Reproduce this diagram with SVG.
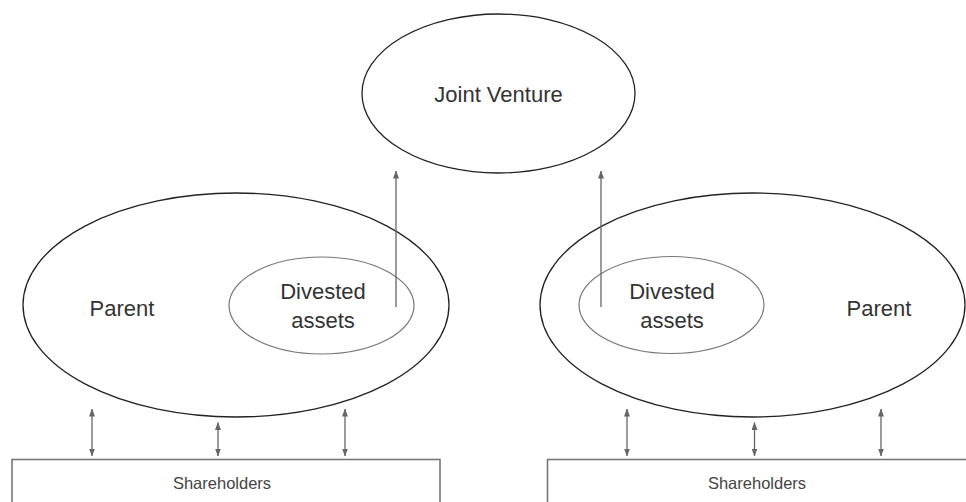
<svg xmlns="http://www.w3.org/2000/svg" width="966" height="502" viewBox="0 0 966 502">
  <defs>
    <marker id="head" viewBox="0 0 8 6" refX="7.5" refY="3" markerWidth="8" markerHeight="6" markerUnits="userSpaceOnUse" orient="auto-start-reverse">
      <path d="M0,0 L8,3 L0,6 Z" fill="#666"/>
    </marker>
    <style>
      .outer { fill: none; stroke: #222; stroke-width: 1.3; }
      .inner { fill: none; stroke: #777; stroke-width: 1.2; }
      .box { fill: #fff; stroke: #777; stroke-width: 1.6; }
      .lbl { font-family: "Liberation Sans", Arial, sans-serif; font-size: 22px; fill: #333; text-anchor: middle; }
      .small { font-family: "Liberation Sans", Arial, sans-serif; font-size: 16.5px; fill: #444; text-anchor: middle; }
      .flow { stroke: #666; stroke-width: 1.3; fill: none; }
    </style>
  </defs>
  <rect width="966" height="502" fill="#fff"/>

  <g id="joint-venture">
    <ellipse class="outer" cx="498.5" cy="93.5" rx="136.5" ry="79.5"/>
    <text class="lbl" x="498.5" y="101.5">Joint Venture</text>
  </g>

  <g id="parent-left">
    <ellipse class="outer" cx="236" cy="305" rx="213" ry="112"/>
    <text class="lbl" x="122" y="315.5">Parent</text>
  </g>
  <g id="divested-left">
    <ellipse class="inner" cx="321.5" cy="305.5" rx="92.5" ry="48.5"/>
    <text class="lbl" x="323" y="299">Divested</text>
    <text class="lbl" x="323" y="328">assets</text>
  </g>

  <g id="parent-right">
    <ellipse class="outer" cx="752.5" cy="305" rx="212.5" ry="112"/>
    <text class="lbl" x="879" y="315.5">Parent</text>
  </g>
  <g id="divested-right">
    <ellipse class="inner" cx="671.5" cy="305" rx="92.5" ry="48.5"/>
    <text class="lbl" x="672" y="299">Divested</text>
    <text class="lbl" x="672" y="328">assets</text>
  </g>

  <g id="shareholders-left">
    <rect class="box" x="12" y="459.5" width="428" height="60"/>
    <text class="small" x="222" y="489">Shareholders</text>
  </g>
  <g id="shareholders-right">
    <rect class="box" x="547.5" y="459.5" width="440" height="60"/>
    <text class="small" x="757" y="489">Shareholders</text>
  </g>

  <g id="connectors">
    <line class="flow" x1="396" y1="307" x2="396" y2="171" marker-end="url(#head)"/>
    <line class="flow" x1="601" y1="307" x2="601" y2="171" marker-end="url(#head)"/>

    <line class="flow" x1="92" y1="409" x2="92" y2="456" marker-start="url(#head)" marker-end="url(#head)"/>
    <line class="flow" x1="218" y1="422.5" x2="218" y2="456" marker-start="url(#head)" marker-end="url(#head)"/>
    <line class="flow" x1="345" y1="409" x2="345" y2="456" marker-start="url(#head)" marker-end="url(#head)"/>

    <line class="flow" x1="627" y1="409" x2="627" y2="456" marker-start="url(#head)" marker-end="url(#head)"/>
    <line class="flow" x1="754.5" y1="422.5" x2="754.5" y2="456" marker-start="url(#head)" marker-end="url(#head)"/>
    <line class="flow" x1="881" y1="409" x2="881" y2="456" marker-start="url(#head)" marker-end="url(#head)"/>
  </g>
</svg>
